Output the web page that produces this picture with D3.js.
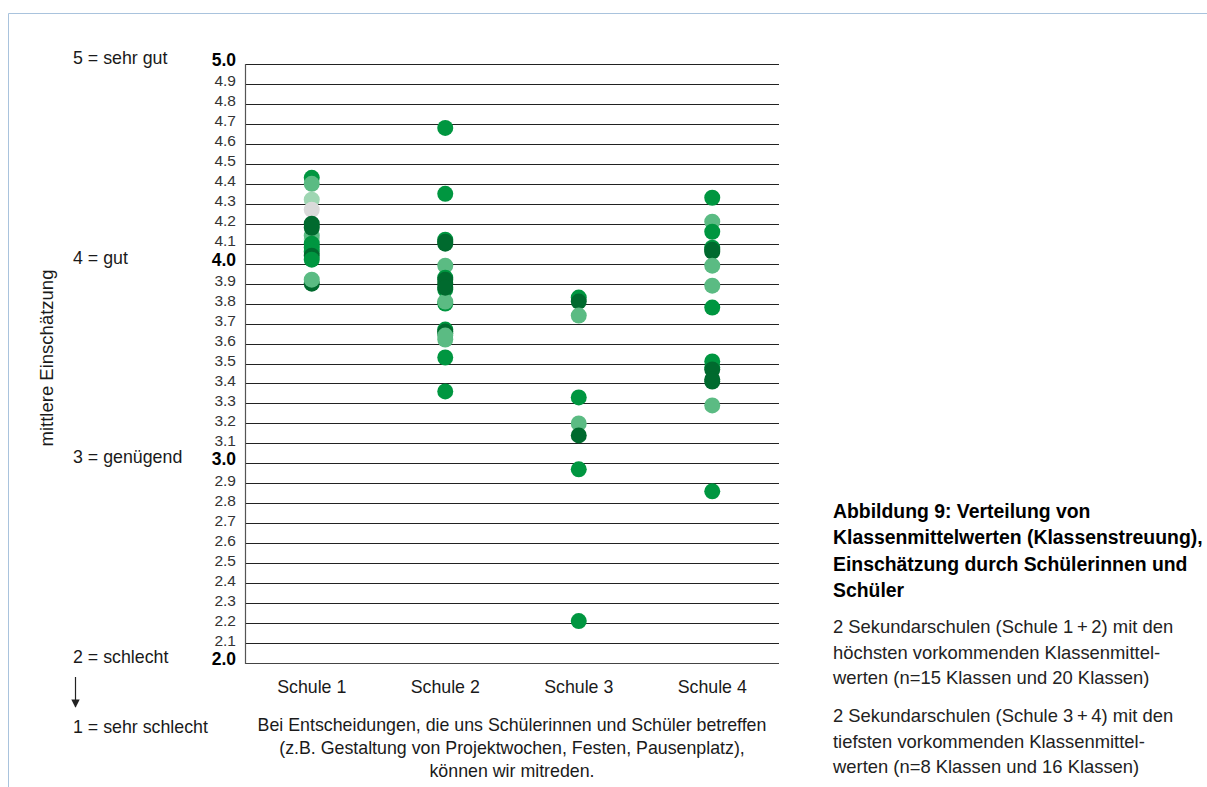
<!DOCTYPE html>
<html>
<head>
<meta charset="utf-8">
<script src="https://cdn.jsdelivr.net/npm/d3@7"></script>
<style>
  html, body { margin: 0; padding: 0; background: #fff; }
  svg text { font-family: "Liberation Sans", Arial, sans-serif; fill: #1a1a1a; }
</style>
</head>
<body>
<svg id="chart" width="1207" height="787"></svg>
<script>
// ---------- data ----------
const schools = ["Schule 1", "Schule 2", "Schule 3", "Schule 4"];
const tickValues = d3.range(20, 51).map(d => d / 10);
const majorTicks = [2.0, 3.0, 4.0, 5.0];
const scaleLabels = ["5 = sehr gut", "4 = gut", "3 = genügend", "2 = schlecht"];
// shade group: 0 = mittel, 1 = dunkel, 2 = hell, 3 = sehr hell, 4 = grau
const school1Values = [4.43, 4.40, 4.32, 4.27, 4.12, 4.14, 4.20, 4.18, 4.10, 4.08, 4.06, 4.04, 4.02, 3.90, 3.92];
const school1Groups = [0,    2,    3,    4,    3,    2,    1,    1,    0,    0,    0,    1,    0,    1,    2];
const school2Values = [4.68, 4.35, 4.10, 4.12, 3.99, 3.87, 3.90, 3.93, 3.92, 3.80, 3.81, 3.67, 3.62, 3.66, 3.65, 3.53, 3.36, 4.11, 3.88, 3.64];
const school2Groups = [0,    0,    1,    0,    2,    0,    1,    0,    1,    0,    2,    0,    2,    1,    1,    0,    0,    1,    1,    2];
const school3Values = [3.83, 3.81, 3.74, 3.33, 3.20, 3.14, 2.97, 2.21];
const school3Groups = [0,    1,    2,    0,    2,    1,    0,    0];
const school4Values = [4.33, 4.21, 4.16, 4.08, 4.06, 4.07, 3.99, 3.89, 3.78, 3.51, 3.48, 3.47, 3.42, 3.41, 3.29, 2.86];
const school4Groups = [0,    2,    0,    0,    1,    1,    2,    2,    0,    0,    0,    1,    1,    1,    2,    0];
const allValues = [school1Values, school2Values, school3Values, school4Values];
const allGroups = [school1Groups, school2Groups, school3Groups, school4Groups];

const titleLines = ["Abbildung 9: Verteilung von", "Klassenmittelwerten (Klassenstreuung),", "Einschätzung durch Schülerinnen und", "Schüler"];
const note1Lines = ["2 Sekundarschulen (Schule 1\u2009+\u20092) mit den", "höchsten vorkommenden Klassenmittel-", "werten (n=15 Klassen und 20 Klassen)"];
const note2Lines = ["2 Sekundarschulen (Schule 3\u2009+\u20094) mit den", "tiefsten vorkommenden Klassenmittel-", "werten (n=8 Klassen und 16 Klassen)"];
const captionLines = ["Bei Entscheidungen, die uns Schülerinnen und Schüler betreffen", "(z.B. Gestaltung von Projektwochen, Festen, Pausenplatz),", "können wir mitreden."];

// ---------- layout ----------
const svg = d3.select("#chart");
const plotLeft = 245, plotRight = 779, plotTop = 64, plotBottom = 663;

const y = d3.scaleLinear().domain([2, 5]).range([plotBottom, plotTop]);
const x = d3.scaleBand().domain(schools).range([plotLeft, plotRight]);
const color = d3.scaleOrdinal().domain([0, 1, 2, 3, 4])
  .range(["#009640", "#006a2e", "#5bbb83", "#9fd6b3", "#dadada"]);

// frame
svg.append("path")
  .attr("d", "M8.5,787 V13.5 H1207")
  .attr("fill", "none").attr("stroke", "#a9c3dd").attr("stroke-width", 1);

// gridlines
svg.append("g").selectAll("line").data(tickValues).join("line")
  .attr("x1", plotLeft).attr("x2", plotRight)
  .attr("y1", d => Math.round(y(d)) + 0.5).attr("y2", d => Math.round(y(d)) + 0.5)
  .attr("stroke", d => d === 2 ? "#444" : "#222").attr("stroke-width", 1.2);

// vertical axis line
svg.append("line").attr("x1", plotLeft + 0.5).attr("x2", plotLeft + 0.5)
  .attr("y1", plotTop).attr("y2", plotBottom + 1).attr("stroke", "#555").attr("stroke-width", 1.2);

// tick labels
svg.append("g").selectAll("text").data(tickValues).join("text")
  .attr("x", 236).attr("y", d => y(d) + (majorTicks.includes(d) ? 2 : 2.5))
  .attr("text-anchor", "end")
  .style("font-size", d => majorTicks.includes(d) ? "17.5px" : "15.5px")
  .style("font-weight", d => majorTicks.includes(d) ? "bold" : "normal")
  .style("fill", d => majorTicks.includes(d) ? "#000" : "#333")
  .text(d => d.toFixed(1));

// verbal scale labels
svg.append("g").selectAll("text").data(scaleLabels).join("text")
  .attr("x", 73).attr("y", (d, i) => y(majorTicks[3 - i]) + 0)
  .style("font-size", "17.8px")
  .text(d => d);

svg.append("text").attr("x", 73).attr("y", 733).style("font-size", "17.8px").text("1 = sehr schlecht");

// arrow
svg.append("defs").append("marker").attr("id", "arr")
  .attr("viewBox", "0 0 10 10").attr("refX", 9).attr("refY", 5)
  .attr("markerWidth", 7).attr("markerHeight", 7).attr("orient", "auto")
  .append("path").attr("d", "M0,0 L10,5 L0,10 Z").attr("fill", "#222");
svg.append("line").attr("x1", 75.5).attr("x2", 75.5).attr("y1", 677).attr("y2", 707)
  .attr("stroke", "#222").attr("stroke-width", 1.2).attr("marker-end", "url(#arr)");

// y axis title
svg.append("text")
  .attr("transform", "translate(53,358) rotate(-90)")
  .attr("text-anchor", "middle").style("font-size", "18.5px")
  .text("mittlere Einschätzung");

// school labels
svg.append("g").selectAll("text").data(schools).join("text")
  .attr("x", d => x(d) + x.bandwidth() / 2).attr("y", 693)
  .attr("text-anchor", "middle").style("font-size", "17.8px")
  .text(d => d);

// caption
svg.append("g").selectAll("text").data(captionLines).join("text")
  .attr("x", 512).attr("y", (d, i) => 731 + i * 23)
  .attr("text-anchor", "middle").style("font-size", "17.8px")
  .text(d => d);

// dots
schools.forEach((s, si) => {
  const pts = allValues[si].map((v, i) => ({ v, g: allGroups[si][i] }));
  svg.append("g").selectAll("circle").data(pts).join("circle")
    .attr("cx", x(s) + x.bandwidth() / 2)
    .attr("cy", d => y(d.v))
    .attr("r", 8)
    .attr("fill", d => color(d.g));
});

// right side text
const tg = svg.append("g");
tg.selectAll("text.t").data(titleLines).join("text").attr("class", "t")
  .attr("x", 833).attr("y", (d, i) => 518 + i * 26.3)
  .style("font-size", "19.4px").style("font-weight", "bold").style("fill", "#000")
  .text(d => d);
tg.selectAll("text.n1").data(note1Lines).join("text").attr("class", "n1")
  .attr("x", 833).attr("y", (d, i) => 633 + i * 25.5)
  .style("font-size", "18.4px").style("fill", "#222")
  .text(d => d);
tg.selectAll("text.n2").data(note2Lines).join("text").attr("class", "n2")
  .attr("x", 833).attr("y", (d, i) => 722 + i * 25.5)
  .style("font-size", "18.4px").style("fill", "#222")
  .text(d => d);
</script>
</body>
</html>
